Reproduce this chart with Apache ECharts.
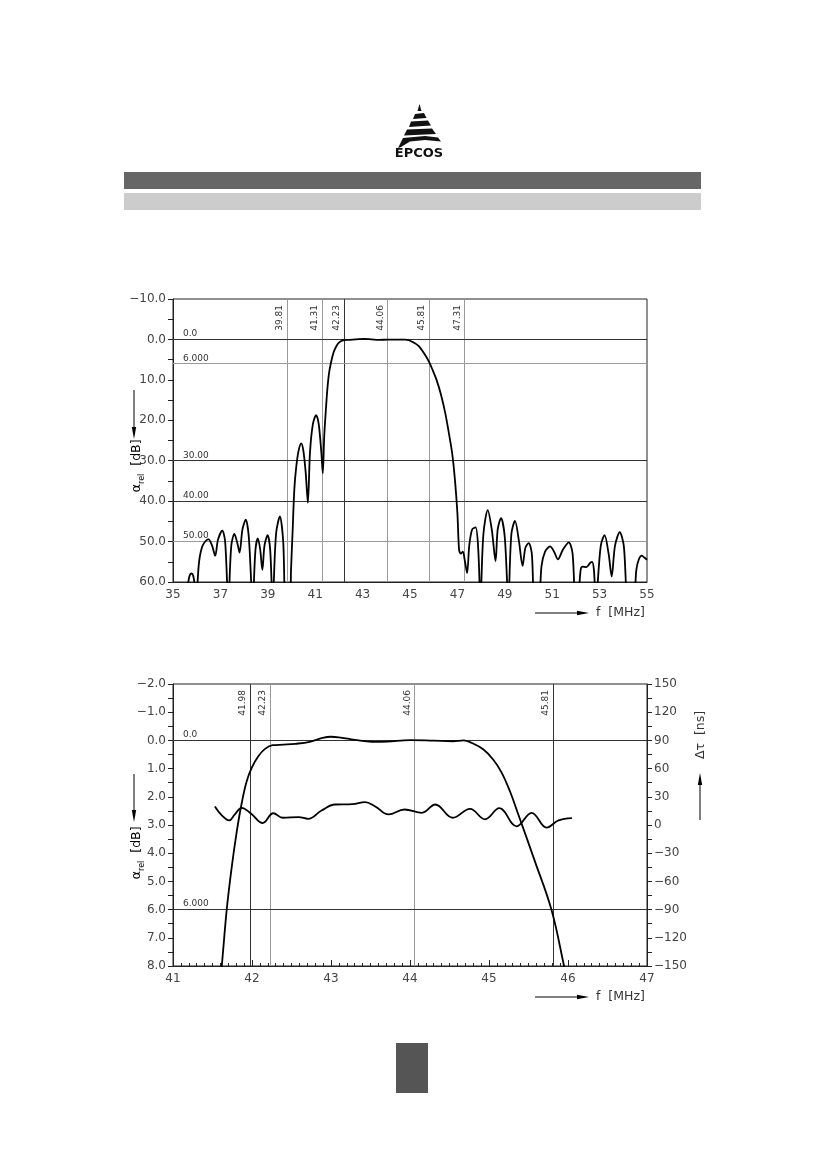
<!DOCTYPE html>
<html>
<head>
<meta charset="utf-8">
<script src="https://cdn.jsdelivr.net/npm/echarts@6/dist/echarts.min.js"></script>
<style>
html,body{margin:0;padding:0;background:#fff;}
#c{width:826px;height:1169px;}
</style>
</head>
<body>
<div id="c"></div>
<script>
// ---------- DATA ----------
// Top chart: relative attenuation [dB] vs frequency [MHz] (values > 60 are off-scale notches)
const topAttenuation = [
  [35.58,64],[35.66,59.5],[35.72,58.2],[35.78,57.9],[35.85,58.4],[35.92,61],[35.98,66],
  [36.02,62],[36.1,55],[36.25,51],[36.49,49.4],[36.65,51],[36.78,53.5],[36.9,49.5],[37.08,47.3],[37.2,50],[37.34,66],
  [37.37,62],[37.46,51],[37.59,48.1],[37.72,50.5],[37.81,52.7],[37.93,47],[38.07,44.6],[38.2,49],[38.37,66],
  [38.4,62],[38.48,52],[38.58,49.2],[38.68,52],[38.77,57],[38.86,51],[38.99,48.4],[39.1,52],[39.21,66],
  [39.24,62],[39.35,48],[39.51,43.8],[39.65,50],[39.76,66],
  [39.93,66],[39.98,57],[40.05,47],[40.12,37],[40.2,31.5],[40.3,27.5],[40.41,25.7],[40.5,27.5],[40.6,33],[40.69,40.4],
  [40.78,28],[40.9,21],[41.04,18.7],[41.15,21],[41.26,28],[41.32,33.1],[41.38,24],[41.44,18.3],[41.51,12.5],
  [41.58,8.5],[41.66,5.9],[41.77,3.3],[41.88,1.8],[42.0,0.8],[42.17,0.25],[42.4,0.1],[42.7,0],[43.05,-0.15],
  [43.4,0],[43.7,0.1],[44.07,0.05],[44.5,0.05],[44.8,0.05],[44.95,0.2],[45.1,0.6],[45.25,1.1],[45.39,1.8],
  [45.6,3.5],[45.8,5.5],[45.95,7.5],[46.12,10],[46.3,13.5],[46.49,18.3],[46.65,23.5],[46.78,28.2],[46.9,35],
  [47.0,43],[47.07,52],[47.14,53],[47.23,52.5],[47.32,55],[47.41,57.8],[47.5,51],[47.62,47],[47.77,46.5],[47.88,52],[47.98,66],
  [48.0,62],[48.1,48],[48.28,42.2],[48.45,47],[48.61,54.8],[48.7,47],[48.84,44.2],[49.0,49],[49.16,66],
  [49.18,62],[49.28,48],[49.43,44.9],[49.6,50],[49.75,56],[49.87,51.5],[50.01,50.4],[50.14,53],[50.26,66],
  [50.42,66],[50.55,56],[50.7,52.5],[50.91,51.2],[51.08,52.5],[51.24,54.4],[51.45,52],[51.7,50.2],[51.86,53],[51.99,66],
  [52.1,64],[52.2,57],[52.28,56.2],[52.44,56.3],[52.6,55.3],[52.68,55],[52.76,57],[52.85,66],
  [52.9,62],[53.05,51],[53.21,48.4],[53.38,53],[53.51,58.6],[53.65,51],[53.85,47.7],[54.02,51],[54.21,66],
  [54.45,64],[54.55,57],[54.65,54.5],[54.78,53.5],[54.9,54],[55,54.5]
];
const topMarkerFreqs  = [39.81, 41.31, 42.23, 44.06, 45.81, 47.31];
const topMarkerDark   = [false, false, true, false, false, false];
const topMarkerLevels = [0, 6, 30, 40, 50];
const topLevelLabels  = ['0.0', '6.000', '30.00', '40.00', '50.00'];
const topLevelDark    = [true, false, true, true, false];

// Bottom chart: passband attenuation [dB] and group delay ripple [ns]
const bottomAttenuation = [
  [41.58,8.9],[41.616,8.03],[41.68,6.0],[41.743,4.5],[41.806,3.25],[41.87,2.22],[41.933,1.45],[42.0,0.95],
  [42.08,0.56],[42.165,0.3],[42.262,0.17],[42.4,0.15],[42.55,0.12],[42.73,0.05],[42.87,-0.07],[43.0,-0.13],
  [43.12,-0.1],[43.3,-0.02],[43.52,0.05],[43.71,0.04],[44.0,-0.01],[44.3,0.01],[44.54,0.03],[44.68,0],
  [44.76,0.06],[44.93,0.32],[45.05,0.67],[45.16,1.14],[45.27,1.84],[45.37,2.62],[45.58,4.28],
  [45.79,6.0],[45.95,8.0],[46.0,8.7]
];
const groupDelay = [
  [41.53,19.7],[41.62,10],[41.71,4.9],[41.78,11],[41.87,18.3],[41.99,12],[42.135,2.1],[42.27,12.5],[42.39,7.7],
  [42.59,8.4],[42.71,6.6],[42.88,15.4],[43.05,21.8],[43.27,22.2],[43.43,24.3],[43.56,19.7],[43.73,11.2],
  [43.93,16.5],[44.15,13],[44.32,21.8],[44.54,7.7],[44.76,17.2],[44.95,6],[45.13,17.9],[45.35,-1.4],
  [45.54,13],[45.73,-2.8],[45.88,4.9],[46.05,7.4]
];
const bottomMarkerFreqs  = [41.98, 42.23, 44.06, 45.81];
const bottomMarkerDark   = [true, false, false, true];
const bottomMarkerLevels = [0, 6];
const bottomLevelLabels  = ['0.0', '6.000'];

// ---------- CHART ----------
const FONT = 'DejaVu Sans';
const LBL = '#444';
const AX = '#222';
const minus = v => (v < 0 ? '\u2212' : '') + Math.abs(v);
const minus1 = v => (v < 0 ? '\u2212' : '') + Math.abs(v).toFixed(1);

function vLines(freqs, dark, y0, y1) {
  return freqs.map((f, i) => [
    {coord: [f, y0]},
    {coord: [f, y1], lineStyle: {color: dark[i] ? '#333' : '#9a9a9a', width: 1, type: 'solid'},
     label: {show: true, formatter: f.toFixed(2), position: 'insideEndTop', distance: [6, 3],
             fontFamily: FONT, fontSize: 9, color: '#333'}}
  ]);
}
function hLines(levels, labels, dark, x0, x1) {
  return levels.map((v, i) => [
    {coord: [x0, v]},
    {coord: [x1, v], lineStyle: {color: dark[i] ? '#333' : '#9a9a9a', width: 1, type: 'solid'},
     label: {show: true, formatter: labels[i], position: 'insideStartTop', distance: [10, 1],
             fontFamily: FONT, fontSize: 9, color: '#333'}}
  ]);
}

const axisLabel = (fmt) => ({color: LBL, fontFamily: FONT, fontSize: 12, formatter: fmt, margin: 7});

const chart = echarts.init(document.getElementById('c'), null, {renderer: 'canvas'});

function arrowRight(x0, x1, y) {
  return [
    {type: 'line', shape: {x1: x0, y1: y, x2: x1 - 8, y2: y}, style: {stroke: '#000', lineWidth: 1}},
    {type: 'polygon', shape: {points: [[x1 - 12, y - 2.2], [x1, y], [x1 - 12, y + 2.2]]}, style: {fill: '#000'}}
  ];
}
function arrowV(x, yFrom, yTo) {
  const d = yTo > yFrom ? 1 : -1;
  return [
    {type: 'line', shape: {x1: x, y1: yFrom, x2: x, y2: yTo - d * 8}, style: {stroke: '#000', lineWidth: 1}},
    {type: 'polygon', shape: {points: [[x - 2.2, yTo - d * 12], [x, yTo], [x + 2.2, yTo - d * 12]]}, style: {fill: '#000'}}
  ];
}
const alphaTitle = (x, y) => ({
  type: 'text', x: x, y: y, rotation: Math.PI / 2,
  style: {text: '{a|α}{s|rel}{b|  [dB]}', align: 'center', verticalAlign: 'middle',
    rich: {a: {fontFamily: FONT, fontSize: 13, color: '#333', lineHeight: 16, verticalAlign: 'bottom'},
           s: {fontFamily: FONT, fontSize: 8, color: '#333', lineHeight: 16, verticalAlign: 'bottom', padding: [0,0,-3,0]},
           b: {fontFamily: FONT, fontSize: 12.5, color: '#333', lineHeight: 16, verticalAlign: 'bottom'}}}
});
const fTitle = (x, y) => ({type: 'text', x: x, y: y,
  style: {text: 'f  [MHz]', fontFamily: FONT, fontSize: 12.5, fill: '#333', align: 'left', verticalAlign: 'middle'}});

const graphics = [
  {type: 'rect', shape: {x: 124, y: 172, width: 577, height: 17}, style: {fill: '#666'}},
  {type: 'rect', shape: {x: 124, y: 193, width: 577, height: 17}, style: {fill: '#cccccc'}},
  {type: 'rect', shape: {x: 396, y: 1043, width: 32, height: 50}, style: {fill: '#555'}},
  // logo
  {type: 'polygon', shape: {points: [[419.5,104],[421.5,111],[417.5,111]]}, style: {fill: '#111'}},
  {type: 'polygon', shape: {points: [[415,114],[424,113],[426.5,118],[413,119]]}, style: {fill: '#111'}},
  {type: 'polygon', shape: {points: [[411,121.5],[428,120.5],[431,125.5],[409,127]]}, style: {fill: '#111'}},
  {type: 'polygon', shape: {points: [[407,129.5],[432,128.5],[436,134],[404,135.5]]}, style: {fill: '#111'}},
  {type: 'polygon', shape: {points: [[403,138],[425,136],[438,137.5],[441,141.5],[425,140],[410,141.5],[401,147],[398,148]]}, style: {fill: '#111'}},
  {type: 'text', x: 419, y: 154, style: {text: 'EPCOS', fontFamily: FONT, fontWeight: 'bold', fontSize: 13, fill: '#111', align: 'center', verticalAlign: 'middle'}},
  // top chart titles
  ...arrowRight(535, 589, 613), fTitle(596, 613),
  ...arrowV(134, 390, 439), alphaTitle(135, 466),
  // bottom chart titles
  ...arrowRight(535, 589, 997), fTitle(596, 997),
  ...arrowV(134, 774, 822), alphaTitle(135, 853),
  ...arrowV(700, 820, 773),
  {type: 'text', x: 701, y: 735, rotation: Math.PI / 2,
   style: {text: 'Δτ  [ns]', fontFamily: FONT, fontSize: 12.5, fill: '#333', align: 'center', verticalAlign: 'middle'}}
];

chart.setOption({
  animation: false,
  backgroundColor: '#fff',
  grid: [
    {left: 173, top: 299, width: 474, height: 283, show: true, borderColor: AX, borderWidth: 1, backgroundColor: 'transparent'},
    {left: 173, top: 684, width: 474, height: 282, show: true, borderColor: AX, borderWidth: 1, backgroundColor: 'transparent'}
  ],
  xAxis: [
    {type: 'value', gridIndex: 0, min: 35, max: 55, interval: 2,
     axisLine: {onZero: false, lineStyle: {color: AX}}, axisTick: {show: false}, splitLine: {show: false},
     axisLabel: axisLabel(v => '' + v)},
    {type: 'value', gridIndex: 1, min: 41, max: 47, interval: 1,
     axisLine: {onZero: false, lineStyle: {color: AX}},
     axisTick: {show: true, inside: true, length: 6, lineStyle: {color: AX}},
     minorTick: {show: true, splitNumber: 10, length: 3, lineStyle: {color: AX}},
     splitLine: {show: false},
     axisLabel: axisLabel(v => '' + v)}
  ],
  yAxis: [
    {type: 'value', gridIndex: 0, inverse: true, min: -10, max: 60, interval: 10,
     axisLine: {show: true, onZero: false, lineStyle: {color: AX}},
     axisTick: {show: true, length: 5, lineStyle: {color: AX}},
     minorTick: {show: true, splitNumber: 2, length: 5, lineStyle: {color: AX}},
     splitLine: {show: false},
     axisLabel: axisLabel(minus1)},
    {type: 'value', gridIndex: 1, inverse: true, min: -2, max: 8, interval: 1,
     axisLine: {show: true, onZero: false, lineStyle: {color: AX}},
     axisTick: {show: true, length: 5, lineStyle: {color: AX}},
     minorTick: {show: true, splitNumber: 2, length: 5, lineStyle: {color: AX}},
     splitLine: {show: false},
     axisLabel: axisLabel(minus1)},
    {type: 'value', gridIndex: 1, position: 'right', min: -150, max: 150, interval: 30,
     axisLine: {show: true, onZero: false, lineStyle: {color: AX}},
     axisTick: {show: true, length: 5, lineStyle: {color: AX}},
     minorTick: {show: true, splitNumber: 2, length: 5, lineStyle: {color: AX}},
     splitLine: {show: false},
     axisLabel: axisLabel(minus)}
  ],
  series: [
    {type: 'line', xAxisIndex: 0, yAxisIndex: 0, data: topAttenuation, smooth: 0.3, symbol: 'none', clip: true,
     lineStyle: {color: '#000', width: 1.8}, z: 5,
     markLine: {silent: true, symbol: 'none', animation: false,
       data: [...vLines(topMarkerFreqs, topMarkerDark, 60, -10),
              ...hLines(topMarkerLevels, topLevelLabels, topLevelDark, 35, 55)]}},
    {type: 'line', xAxisIndex: 1, yAxisIndex: 1, data: bottomAttenuation, smooth: 0.4, symbol: 'none', clip: true,
     lineStyle: {color: '#000', width: 1.8}, z: 5,
     markLine: {silent: true, symbol: 'none', animation: false,
       data: [...vLines(bottomMarkerFreqs, bottomMarkerDark, 8, -2),
              ...hLines(bottomMarkerLevels, bottomLevelLabels, [true, true], 41, 47)]}},
    {type: 'line', xAxisIndex: 1, yAxisIndex: 2, data: groupDelay, smooth: 0.4, symbol: 'none', clip: true,
     lineStyle: {color: '#000', width: 1.8}, z: 5}
  ],
  graphic: graphics
});
</script>
</body>
</html>
